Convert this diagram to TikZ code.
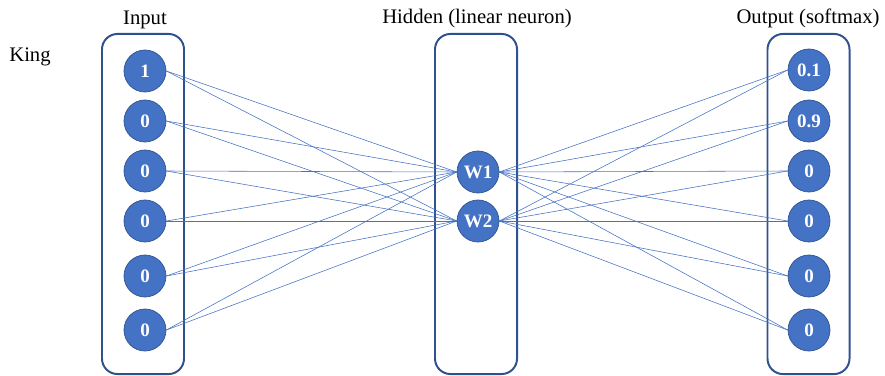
\documentclass[tikz,border=0pt]{standalone}
\usepackage{fontspec}
\setmainfont{Liberation Serif}
\usepackage{xcolor}
\usetikzlibrary{positioning}
\definecolor{nodeblue}{HTML}{4472C4}
\definecolor{rimblue}{HTML}{2F528F}

\begin{document}
\begin{tikzpicture}[x=0.025cm, y=-0.025cm,
    neuron/.style={circle, fill=nodeblue, draw=rimblue, line width=0.5pt, minimum size=1.05cm, inner sep=0pt, text=white, font=\fontsize{13.5}{14}\selectfont\bfseries},
    layer/.style={draw=rimblue, line width=1.4pt, rounded corners=11pt, minimum width=2.05cm, minimum height=8.5cm},
    link/.style={draw=nodeblue, line width=0.4pt},
    title/.style={anchor=base, font=\fontsize{14.7}{16}\selectfont}]
    \useasboundingbox (0,0) rectangle (885,375);

    % layer boxes
    \node[layer] (inbox) at (143,204) {};
    \node[layer] (hidbox) at (476,204) {};
    \node[layer] (outbox) at (808.5,204) {};

    % titles
    \node[title] (intitle) at (145,24) {Input};
    \node[title] (hidtitle) at (477,23) {Hidden (linear neuron)};
    \node[title] (outtitle) at (808,23) {Output (softmax)};
    \node[title] (word) at (30,61) {King};

    % input layer
    \foreach \v/\y [count=\i] in {1/71, 0/121, 0/171, 0/221, 0/276, 0/330}
        \node[neuron] (in\i) at (145,\y) {\v};

    % hidden layer
    \node[neuron] (w1) at (478,172) {W1};
    \node[neuron] (w2) at (478,221) {W2};

    % output layer
    \foreach \v/\y [count=\i] in {0.1/70, 0.9/121, 0/171, 0/221, 0/276, 0/330}
        \node[neuron] (out\i) at (809,\y) {\v};

    % connections
    \foreach \i in {1,...,6}
        \foreach \j in {1,2} {
            \draw[link] (in\i.east) -- (w\j.west);
            \draw[link] (w\j.east) -- (out\i.west);
        }
\end{tikzpicture}
\end{document}
